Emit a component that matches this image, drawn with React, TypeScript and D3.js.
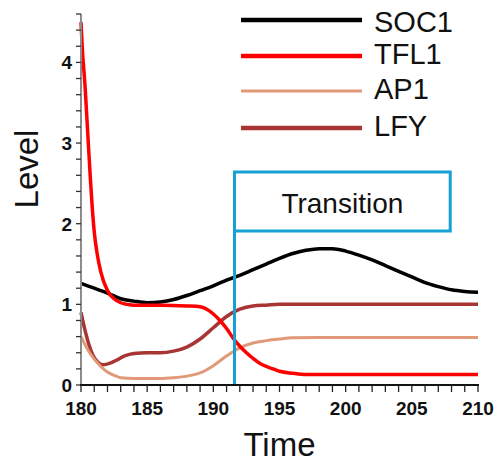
import React from "react";
import * as d3 from "d3";

const W = 498;
const H = 463;
const FONT = "'Liberation Sans', Arial, Helvetica, sans-serif";

const soc1T = [180, 181, 182, 183, 184, 185, 186, 187, 188, 189, 190, 191, 192, 193, 194, 195, 196, 197, 198, 199, 200, 201, 202, 203, 204, 205, 206, 207, 208, 209, 210];
const soc1V = [1.26, 1.2, 1.14, 1.07, 1.04, 1.02, 1.03, 1.06, 1.11, 1.17, 1.23, 1.3, 1.36, 1.43, 1.5, 1.57, 1.63, 1.67, 1.69, 1.69, 1.66, 1.61, 1.55, 1.48, 1.41, 1.34, 1.27, 1.22, 1.18, 1.16, 1.15];

const tfl1T = [180, 180.1, 180.3, 180.5, 180.7, 180.85, 181, 181.25, 181.5, 182, 182.5, 183, 183.5, 184, 186, 188, 189, 189.5, 190, 190.5, 191, 191.5, 192, 192.5, 193, 193.5, 194, 194.5, 195, 196, 197, 200, 210];
const tfl1V = [4.5, 4.17, 3.72, 3.15, 2.58, 2.2, 1.9, 1.6, 1.4, 1.17, 1.07, 1.02, 1.0, 0.99, 0.99, 0.98, 0.97, 0.94, 0.88, 0.8, 0.7, 0.58, 0.48, 0.4, 0.33, 0.27, 0.23, 0.2, 0.17, 0.145, 0.13, 0.13, 0.13];

const ap1T = [180, 180.5, 181, 181.5, 182, 182.5, 183, 184, 185, 186, 187, 188, 189, 190, 191, 192, 193, 194, 195, 196, 198, 210];
const ap1V = [0.6, 0.44, 0.32, 0.23, 0.16, 0.12, 0.09, 0.08, 0.08, 0.08, 0.09, 0.11, 0.15, 0.24, 0.36, 0.46, 0.52, 0.55, 0.57, 0.585, 0.59, 0.59];

const lfyT = [180, 180.3, 180.6, 180.9, 181.3, 181.7, 182.2, 182.7, 183.3, 184, 185, 186, 187, 188, 189, 190, 191, 192, 193, 194, 195, 210];
const lfyV = [0.9, 0.68, 0.5, 0.37, 0.28, 0.25, 0.27, 0.31, 0.36, 0.39, 0.4, 0.4, 0.42, 0.47, 0.57, 0.71, 0.85, 0.94, 0.98, 0.99, 1.0, 1.0];

const seriesNames = ["SOC1", "TFL1", "AP1", "LFY"];
const seriesColors = ["#000000", "#ff0000", "#e09a78", "#a83434"];
const seriesWidths = [3.5, 3.5, 3, 3.5];
const legendWidths = [4.5, 4.5, 3, 4.5];

const xTicksMajor = [180, 185, 190, 195, 200, 205, 210];
const yTicksMajor = [0, 1, 2, 3, 4];

const transitionX = [191.6, 207.9];
const transitionY = [1.91, 2.64];
const transitionLabel = "Transition";

export default function App() {
  const x = d3.scaleLinear().domain([180, 210]).range([81, 478]);
  const y = d3.scaleLinear().domain([0, 4.6]).range([385, 14]);

  const series = [
    soc1T.map((t, i) => [t, soc1V[i]]),
    tfl1T.map((t, i) => [t, tfl1V[i]]),
    ap1T.map((t, i) => [t, ap1V[i]]),
    lfyT.map((t, i) => [t, lfyV[i]]),
  ];
  const line = d3
    .line<number[]>()
    .x((d) => x(d[0]))
    .y((d) => y(d[1]))
    .curve(d3.curveMonotoneX);

  const xMinor = d3.range(180, 211, 1);
  const yMinor = d3.range(0, 4.61, 0.2);

  const bx0 = x(transitionX[0]);
  const bx1 = x(transitionX[1]);
  const by0 = y(transitionY[1]);
  const by1 = y(transitionY[0]);

  const legY = [20, 56, 91, 128];
  const legTextY = [32, 64, 99, 136];

  return (
    <svg width={W} height={H} style={{ position: "absolute", left: 0, top: 0, background: "#fff" }}>
      {/* curves */}
      {[3, 2, 0, 1].map((i) => (
        <path
          key={seriesNames[i]}
          d={line(series[i] as any) || ""}
          fill="none"
          stroke={seriesColors[i]}
          strokeWidth={seriesWidths[i]}
          strokeLinejoin="round"
        />
      ))}

      {/* transition box */}
      <path
        d={`M${bx0},${y(0)} L${bx0},${by0} L${bx1},${by0} L${bx1},${by1} L${bx0},${by1}`}
        fill="none"
        stroke="#16a0d4"
        strokeWidth={3}
      />
      <text x={(bx0 + bx1) / 2} y={213} textAnchor="middle" fontFamily={FONT} fontSize={28} fill="#111">
        {transitionLabel}
      </text>

      {/* y axis */}
      <line x1={81} x2={81} y1={y(4.6)} y2={y(0)} stroke="#8c8c8c" strokeWidth={2} />
      {yMinor.map((v, i) => (
        <line key={"ym" + i} x1={76} x2={81} y1={y(v)} y2={y(v)} stroke="#333" strokeWidth={1.3} />
      ))}
      {yTicksMajor.map((v) => (
        <text key={"yl" + v} x={72} y={y(v)} dy="0.36em" textAnchor="end" fontFamily={FONT} fontWeight="bold" fontSize={19} fill="#111">
          {v}
        </text>
      ))}

      {/* x axis */}
      <line x1={80} x2={479} y1={385} y2={385} stroke="#111" strokeWidth={2} />
      {xMinor.map((v) => (
        <line key={"xm" + v} x1={x(v)} x2={x(v)} y1={385} y2={392} stroke="#222" strokeWidth={1.3} />
      ))}
      {xTicksMajor.map((v) => (
        <text key={"xl" + v} x={x(v)} y={415} textAnchor="middle" fontFamily={FONT} fontWeight="bold" fontSize={19} fill="#111">
          {v}
        </text>
      ))}

      {/* axis titles */}
      <text transform="translate(38,169) rotate(-90)" textAnchor="middle" fontFamily={FONT} fontSize={33} fill="#111">
        Level
      </text>
      <text x={(x(180) + x(210)) / 2} y={456} textAnchor="middle" fontFamily={FONT} fontSize={33} fill="#111">
        Time
      </text>

      {/* legend */}
      {seriesNames.map((n, i) => (
        <g key={"lg" + n}>
          <line x1={241} x2={362} y1={legY[i]} y2={legY[i]} stroke={seriesColors[i]} strokeWidth={legendWidths[i]} />
          <text x={374} y={legTextY[i]} fontFamily={FONT} fontSize={29} fill="#111">
            {n}
          </text>
        </g>
      ))}
    </svg>
  );
}
